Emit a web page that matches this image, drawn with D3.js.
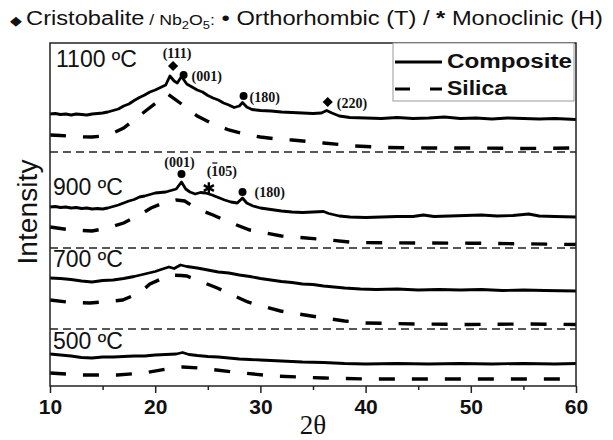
<!DOCTYPE html>
<html>
<head>
<meta charset="utf-8">
<script src="https://cdn.jsdelivr.net/npm/d3@7"></script>
<style>
  body { margin: 0; background: #fff; }
  text { font-family: Arial, "Liberation Sans", sans-serif; }
</style>
</head>
<body>
<script>
var w = 613,
    h = 440;

// temperatures (bottom to top) and the vertical offset of each stacked panel
var temps = ['500 ºC', '700 ºC', '900 ºC', '1100 ºC'];
var offsets = [0, 570, 1380, 2340];
var tempLabelLevel = [370, 1190, 1910, 3190];

var xTicks = [10, 20, 30, 40, 50, 60];
var xMinorTicks = [15, 25, 35, 45, 55];

// composite patterns [2theta, intensity above panel offset]
var comp500 = [[10,320],[11,310],[12,300],[13,285],[14,280],[15,290],[16,290],[17,295],[18,300],[19,300],
  [20,310],[21,315],[22,320],[22.6,335],[23.2,315],[24,305],[25,295],[26,290],[27,280],[28,270],[29,265],
  [30,260],[32,250],[34,240],[36,235],[38,225],[40,220],[43,225],[46,220],[49,225],[52,220],[55,225],
  [58,220],[60,225]];
var comp700 = [[10,510],[11,505],[12,495],[13,480],[14,470],[15,485],[16,490],[17,505],[18,525],[19,550],
  [20,575],[20.7,600],[21.3,620],[21.8,605],[22.4,640],[23,625],[24,610],[25,590],[26,570],[27,560],
  [28,540],[29,525],[30,505],[31,490],[32,475],[33,465],[34,450],[35,445],[36,430],[37,420],[38,410],
  [39.5,400],[41,395],[43,400],[45,390],[47,395],[49,390],[51,395],[53,385],[55,390],[57,385],[60,380]];
var comp900 = [[10,410],[10.5,415],[11,405],[11.5,410],[12,400],[12.5,405],[13,395],[13.5,400],[14,390],
  [14.5,395],[15,390],[15.5,400],[16,415],[16.5,430],[17,450],[17.5,470],[18,485],[18.5,510],[19,520],
  [19.5,535],[20,550],[20.5,555],[21,560],[21.5,575],[22,590],[22.5,660],[22.9,590],[23.3,560],[23.8,540],
  [24.3,555],[24.8,550],[25.4,530],[26,505],[26.6,480],[27.2,460],[27.8,450],[28.3,500],[28.7,450],
  [29.3,420],[30,400],[31,385],[32,370],[33,360],[34,355],[35,360],[36,365],[36.5,345],[37.5,320],
  [38.5,310],[40,305],[41.5,310],[43,315],[44.5,315],[45.5,330],[46.5,315],[48,320],[49.5,325],[51,330],
  [52.5,320],[54,325],[55.5,340],[56.5,320],[58,315],[60,310]];
var comp1100 = [[10,380],[10.5,385],[11,375],[11.5,380],[12,370],[12.5,380],[13,375],[13.5,370],[14,380],
  [14.5,385],[15,390],[15.5,400],[16,415],[16.5,430],[17,460],[17.5,480],[18,515],[18.5,545],[19,570],
  [19.5,600],[20,620],[20.5,645],[21,670],[21.4,760],[21.8,710],[22.1,690],[22.5,755],[23,680],[23.5,650],
  [24,620],[24.5,600],[25,565],[25.5,540],[26,520],[26.5,490],[27,470],[27.5,445],[28,460],[28.3,495],
  [28.7,450],[29.2,425],[30,415],[31,410],[32,400],[33,395],[34,390],[35,385],[35.8,390],[36.3,415],
  [36.8,390],[37.5,360],[38.5,345],[40,340],[41.5,335],[43,345],[44.5,335],[46,340],[47.5,350],[49,335],
  [50.5,340],[52,330],[53.5,340],[55,335],[56.5,330],[58,335],[60,325]];

// silica patterns
var sil500 = [[10,130],[12.9,110],[16.4,110],[18.9,130],[21.7,180],[22.6,190],[24.2,180],[27.4,140],
  [31.2,100],[36,80],[40,70],[50,70],[60,70]];
var sil700 = [[10,290],[12,265],[13.8,260],[15,270],[16.9,290],[18.5,360],[19.5,450],[21.4,540],[22.5,535],
  [23,530],[25.9,410],[28.8,270],[31.9,180],[35.4,120],[38,80],[40,60],[45,50],[50,45],[55,50],[60,45]];
var sil900 = [[10,210],[12,180],[14,170],[15.5,200],[17,250],[18.5,330],[19.6,400],[21,460],[22,480],
  [22.8,470],[24,390],[25.5,330],[27,260],[29,180],[32,120],[35.5,90],[39,55],[42,52],[46,50],[50,48],
  [55,42],[60,35]];
var sil1100 = [[10,170],[11,165],[12,158],[13,152],[14,150],[15,160],[16,190],[17,240],[18,320],[19.2,420],
  [20.2,500],[21.2,580],[22.5,480],[24,360],[25.5,280],[27,220],[28.5,180],[30,150],[31.5,130],[33,120],
  [36,90],[39,60],[42,45],[46,40],[50,40],[55,35],[60,40]];

var composite = [comp500, comp700, comp900, comp1100];
var silica = [sil500, sil700, sil900, sil1100];

// indexed reflections: panel index, 2theta, marker level, phase, hkl
var peaks = [
  {panel: 3, t: 21.7, i: 860, phase: 'cristobalite', hkl: '(111)'},
  {panel: 3, t: 22.7, i: 770, phase: 'orthorhombic', hkl: '(001)'},
  {panel: 3, t: 28.4, i: 560, phase: 'orthorhombic', hkl: '(180)'},
  {panel: 3, t: 36.4, i: 500, phase: 'cristobalite', hkl: '(220)'},
  {panel: 2, t: 22.5, i: 740, phase: 'orthorhombic', hkl: '(001)'},
  {panel: 2, t: 25.1, i: 600, phase: 'monoclinic', hkl: '(105)'},
  {panel: 2, t: 28.3, i: 560, phase: 'orthorhombic', hkl: '(180)'}
];

var svg = d3.select('body')
            .append('svg')
            .attr('width', w)
            .attr('height', h);

var x = d3.scaleLinear()
          .domain([10, 60])
          .range([50, 576]);

var y = d3.scaleLinear()
          .domain([0, 3430])
          .range([386, 43]);

var line = d3.line()
             .x(function(d) { return x(d[0]); })
             .y(function(d) { return y(d[1]); });

// panel separators
svg.selectAll('.sep')
   .data(offsets.slice(1))
   .enter()
   .append('line')
   .attr('class', 'sep')
   .attr('x1', x(10))
   .attr('x2', x(60))
   .attr('y1', function(d) { return y(d); })
   .attr('y2', function(d) { return y(d); })
   .style('stroke', '#222')
   .style('stroke-width', 1.5)
   .style('stroke-dasharray', '8,5');

// silica (dashed) curves
svg.selectAll('.silica')
   .data(silica)
   .enter()
   .append('path')
   .attr('class', 'silica')
   .attr('d', function(d, i) {
      return line(d.map(function(p) { return [p[0], p[1] + offsets[i]]; }));
    })
   .style('fill', 'none')
   .style('stroke', '#000')
   .style('stroke-width', 3.4)
   .style('stroke-dasharray', '16,17');

// composite curves
svg.selectAll('.composite')
   .data(composite)
   .enter()
   .append('path')
   .attr('class', 'composite')
   .attr('d', function(d, i) {
      return line(d.map(function(p) { return [p[0], p[1] + offsets[i]]; }));
    })
   .style('fill', 'none')
   .style('stroke', '#000')
   .style('stroke-width', 2.8)
   .style('stroke-linejoin', 'round');

// temperature labels
svg.selectAll('.temp')
   .data(temps)
   .enter()
   .append('text')
   .attr('class', 'temp')
   .attr('x', function(d, i) { return i === 3 ? 56 : 53; })
   .attr('y', function(d, i) { return y(tempLabelLevel[i]); })
   .style('font-size', '23px')
   .style('fill', '#111')
   .text(function(d) { return d; });

// peak markers and labels
var labelPlace = [[4, -8, 'middle'], [8, 6, 'start'], [6, 6, 'start'], [9, 6, 'start'],
                  [-2, -7, 'middle'], [13, -12, 'middle'], [12, 5, 'start']];

var pk = svg.selectAll('.peak')
            .data(peaks)
            .enter()
            .append('g')
            .attr('class', 'peak')
            .attr('transform', function(d) {
              return 'translate(' + x(d.t) + ',' + y(d.i + offsets[d.panel]) + ')';
            });

pk.append('path')
  .attr('d', function(d) {
    if (d.phase === 'cristobalite') return d3.symbol(d3.symbolSquare).size(52)();
    if (d.phase === 'monoclinic') return d3.symbol(d3.symbolAsterisk).size(95)();
    return d3.symbol(d3.symbolCircle).size(50)();
  })
  .attr('transform', function(d) { return d.phase === 'cristobalite' ? 'rotate(45)' : null; })
  .style('fill', '#000')
  .style('stroke', '#000')
  .style('stroke-width', function(d) { return d.phase === 'monoclinic' ? 2.4 : 0; });

pk.append('text')
  .attr('x', function(d, i) { return labelPlace[i][0]; })
  .attr('y', function(d, i) { return labelPlace[i][1]; })
  .attr('text-anchor', function(d, i) { return labelPlace[i][2]; })
  .style('font-family', '"Liberation Serif", "Times New Roman", serif')
  .style('font-weight', 'bold')
  .style('font-size', '14px')
  .style('fill', '#111')
  .text(function(d) { return d.hkl; })
  .each(function(d) {
    // bar over the 1 of the monoclinic (-105) reflection
    if (d.phase !== 'monoclinic') return;
    var box = this.getExtentOfChar(1);
    d3.select(this.parentNode)
      .append('line')
      .attr('x1', box.x + 1)
      .attr('x2', box.x + box.width - 1)
      .attr('y1', box.y - 1)
      .attr('y2', box.y - 1)
      .style('stroke', '#111')
      .style('stroke-width', 1.3);
  });

// x axis
svg.append('g')
   .attr('transform', 'translate(0,386)')
   .call(d3.axisBottom(x).tickValues(xMinorTicks).tickSize(4).tickFormat(''))
   .call(function(g) { g.select('.domain').remove(); })
   .selectAll('line')
   .style('stroke', '#222')
   .style('stroke-width', 1.5);

var xAxis = svg.append('g')
               .attr('transform', 'translate(0,386)')
               .call(d3.axisBottom(x).tickValues(xTicks).tickSize(7).tickPadding(6));
xAxis.select('.domain').remove();
xAxis.selectAll('line').style('stroke', '#222').style('stroke-width', 1.5);
xAxis.selectAll('text')
     .style('font-family', 'Arial, "Liberation Sans", sans-serif')
     .style('font-size', '21px')
     .style('font-weight', 'bold')
     .style('fill', '#111');

// plot frame
svg.append('rect')
   .attr('x', x(10))
   .attr('y', y(3430))
   .attr('width', x(60) - x(10))
   .attr('height', y(0) - y(3430))
   .style('fill', 'none')
   .style('stroke', '#222')
   .style('stroke-width', 1.5);

// legend
var legend = svg.append('g');
legend.append('rect')
      .attr('x', 393)
      .attr('y', 43)
      .attr('width', 181)
      .attr('height', 58)
      .style('fill', '#fff')
      .style('stroke', '#999')
      .style('stroke-width', 1);
legend.append('line')
      .attr('x1', 395).attr('x2', 442)
      .attr('y1', 62).attr('y2', 62)
      .style('stroke', '#000').style('stroke-width', 2.8);
legend.append('line')
      .attr('x1', 395).attr('x2', 442)
      .attr('y1', 89).attr('y2', 89)
      .style('stroke', '#000').style('stroke-width', 3.2)
      .style('stroke-dasharray', '15,20');
legend.selectAll('.ltext')
      .data(['Composite', 'Silica'])
      .enter()
      .append('text')
      .attr('x', 447)
      .attr('y', function(d, i) { return 68 + i * 27; })
      .attr('textLength', function(d, i) { return i === 0 ? 125 : 60; })
      .attr('lengthAdjust', 'spacingAndGlyphs')
      .style('font-size', '20px')
      .style('font-weight', 'bold')
      .style('fill', '#111')
      .text(function(d) { return d; });

// axis titles
svg.append('text')
   .attr('transform', 'translate(37,212) rotate(-90)')
   .attr('text-anchor', 'middle')
   .attr('textLength', 105)
   .attr('lengthAdjust', 'spacingAndGlyphs')
   .style('font-size', '27px')
   .style('fill', '#111')
   .text('Intensity');

svg.append('text')
   .attr('x', 313)
   .attr('y', 434)
   .attr('text-anchor', 'middle')
   .style('font-family', '"Liberation Serif", "Times New Roman", serif')
   .style('font-size', '27px')
   .style('fill', '#111')
   .text('2θ');

// phase key at the top
var key = svg.append('text')
             .attr('x', 10)
             .attr('y', 25)
             .attr('textLength', 593)
             .attr('lengthAdjust', 'spacingAndGlyphs')
             .style('font-size', '20px')
             .style('fill', '#111');
key.append('tspan').style('font-size', '13px').text('◆ ');
key.append('tspan').text('Cristobalite');
key.append('tspan').style('font-size', '15px').text(' / Nb');
key.append('tspan').style('font-size', '11px').attr('dy', 4).text('2');
key.append('tspan').style('font-size', '15px').attr('dy', -4).text('O');
key.append('tspan').style('font-size', '11px').attr('dy', 4).text('5');
key.append('tspan').style('font-size', '15px').attr('dy', -4).text(':');
key.append('tspan').text(' • Orthorhombic (T) / ');
key.append('tspan').style('font-weight', 'bold').text('*');
key.append('tspan').text(' Monoclinic (H)');
</script>
</body>
</html>
